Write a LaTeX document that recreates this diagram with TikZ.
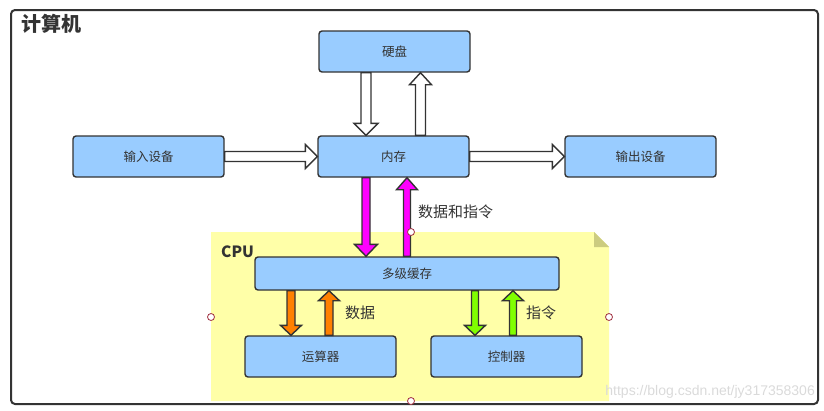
\documentclass[tikz,border=0pt]{standalone}
\usepackage{fontspec}
\setmainfont{Noto Sans CJK SC}
\newfontfamily\wmfont{Liberation Sans}
\usetikzlibrary{calc}
\definecolor{boxblue}{HTML}{99CCFF}
\definecolor{edge}{HTML}{333333}
\definecolor{cpuyellow}{HTML}{FFFFA8}
\definecolor{foldc}{HTML}{CCCC80}
\definecolor{mag}{HTML}{FF00FF}
\definecolor{orng}{HTML}{FF8000}
\definecolor{grn}{HTML}{80FF00}
\definecolor{handlec}{HTML}{A03040}
\definecolor{wmgray}{HTML}{DADADA}
% #1 start, #2 end, #3 fill, #4 half shaft, #5 half head, #6 head length
\newcommand\blockarr[6]{%
  \path[draw=edge, line width=1.4pt, fill=#3, line join=miter]
    let \p1=#1, \p2=#2, \n1={atan2(\y2-\y1,\x2-\x1)}, \n2={veclen(\x2-\x1,\y2-\y1)} in
    [shift={(\p1)}, rotate=\n1]
    (0pt,-#4) -- ({\n2-#6},-#4) -- ({\n2-#6},-#5) -- (\n2,0pt) -- ({\n2-#6},#5) -- ({\n2-#6},#4) -- (0pt,#4) -- cycle;
}
\tikzset{
  box/.style={draw=edge, fill=boxblue, line width=1.4pt, rounded corners=3pt,
    minimum width=151pt, minimum height=41pt, inner sep=0pt, text=edge,
    font=\fontsize{12.5}{14}\selectfont},
  lbl/.style={anchor=west, inner sep=0pt, text=edge, font=\fontsize{15}{17}\selectfont},
  handle/.style={circle, draw=handlec, fill=white, line width=0.8pt, minimum size=7pt, inner sep=0pt},
}
\begin{document}
\begin{tikzpicture}[x=1pt, y=-1pt]
\useasboundingbox (0,0) rectangle (824,410);
% outer frame
\node[draw=edge, line width=2pt, rounded corners=4pt, minimum width=807pt, minimum height=394pt, inner sep=0pt] (frame) at (414.5,207) {};
\node[anchor=west, inner sep=0pt, text=edge, font=\fontsize{20}{23}\selectfont\bfseries] (title) at (21,24) {计算机};
% CPU region
\path[fill=cpuyellow] (211,232) -- (594,232) -- (609,247) -- (609,401) -- (211,401) -- cycle;
\path[fill=foldc] (594,232) -- (594,247) -- (609,247) -- cycle;
\node[anchor=west, inner sep=0pt, text=edge, font=\fontsize{15.5}{18}\selectfont\bfseries] (cpu) at (221,252) {CPU};
% boxes
\node[box] (hd) at (394.5,51.5) {硬盘};
\node[box] (in) at (148.5,156.5) {输入设备};
\node[box] (mem) at (393.5,156.5) {内存};
\node[box] (out) at (640.5,156.5) {输出设备};
\node[box, minimum width=304pt, minimum height=33pt] (cache) at (407,273.5) {多级缓存};
\node[box] (alu) at (320.5,356.5) {运算器};
\node[box] (ctl) at (506.5,356.5) {控制器};
% hollow arrows
\blockarr{($(hd.south)+(-28.5,0)$)}{($(hd.south |- mem.north)+(-28.5,0)$)}{white}{5pt}{12pt}{12pt}
\blockarr{($(hd.south |- mem.north)+(26,0)$)}{($(hd.south)+(26,0)$)}{white}{5pt}{11pt}{12pt}
\blockarr{(in.east)}{(mem.west)}{white}{5pt}{12pt}{12pt}
\blockarr{(mem.east)}{(out.west)}{white}{5pt}{12pt}{12pt}
% magenta
\blockarr{($(mem.south)+(-27.5,0)$)}{($(mem.south |- cache.north)+(-27.5,0)$)}{mag}{4pt}{11.5pt}{12pt}
\blockarr{(cache.north)}{(cache.north |- mem.south)}{mag}{3.5pt}{10.5pt}{12pt}
% orange
\blockarr{($(alu.north |- cache.south)+(-29.5,0)$)}{($(alu.north)+(-29.5,0)$)}{orng}{4pt}{10.5pt}{10pt}
\blockarr{($(alu.north)+(8.5,0)$)}{($(alu.north |- cache.south)+(8.5,0)$)}{orng}{4pt}{10.5pt}{10pt}
% green
\blockarr{($(ctl.north |- cache.south)+(-31.5,0)$)}{($(ctl.north)+(-31.5,0)$)}{grn}{3.5pt}{10.5pt}{10pt}
\blockarr{($(ctl.north)+(6.5,0)$)}{($(ctl.north |- cache.south)+(6.5,0)$)}{grn}{3.5pt}{10.5pt}{10pt}
% labels
\node[lbl] (l1) at (418,212) {数据和指令};
\node[lbl] (l2) at (345,313) {数据};
\node[lbl] (l3) at (526,313) {指令};
% selection handles
\node[handle] (h1) at (211,317) {};
\node[handle] (h2) at (609,317) {};
\node[handle] (h3) at (411,401) {};
\node[handle] (h4) at (411,232) {};
% watermark
\node[anchor=east, inner sep=0pt, text=wmgray, font=\wmfont\fontsize{14}{16}\selectfont] (wm) at (815,392) {https://blog.csdn.net/jy317358306};
\end{tikzpicture}
\end{document}
